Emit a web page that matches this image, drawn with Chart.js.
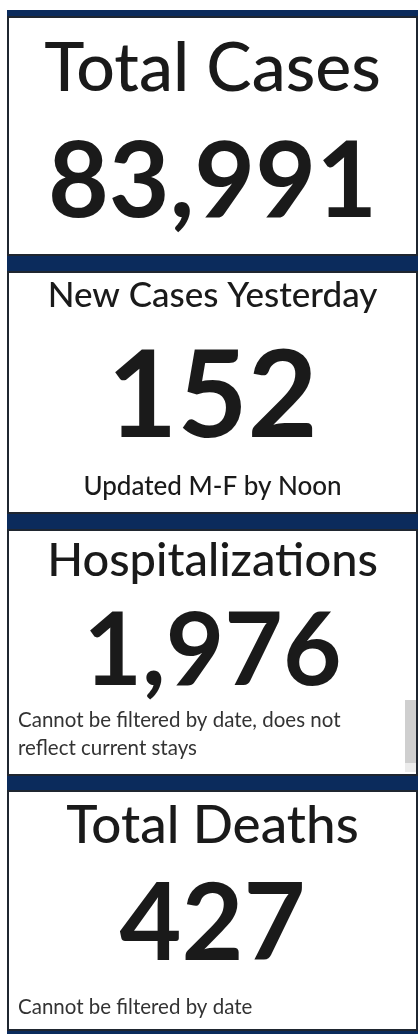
<!DOCTYPE html>
<html>
<head>
<meta charset="utf-8">
<script src="https://cdn.jsdelivr.net/npm/chart.js@4.4.1/dist/chart.umd.min.js"></script>
<style>
    body { margin: 0; background: #fff; }
    #board { position: absolute; left: 7px; top: 10px; width: 411px; height: 1024px; background: #0b2b5c; }
    .card { position: absolute; left: 0; width: 407px; background: #fff; border: 2px solid #1f2630; }
    .card canvas { display: block; }
    #scroll { position: absolute; left: 396px; top: 169px; width: 11px; height: 72px; background: #ececec; }
    #scroll div { width: 11px; height: 63px; background: #cfcfcf; }
</style>
</head>
<body>
<div id="board">
    <div class="card" style="top:6px"><canvas id="kartu0" width="407" height="236"></canvas></div>
    <div class="card" style="top:261px"><canvas id="kartu1" width="407" height="239"></canvas></div>
    <div class="card" style="top:519px"><canvas id="kartu2" width="407" height="243"></canvas><div id="scroll"><div></div></div></div>
    <div class="card" style="top:780px"><canvas id="kartu3" width="407" height="237"></canvas></div>
</div>
<script>
const cardTitles = ['Total Cases', 'New Cases Yesterday', 'Hospitalizations', 'Total Deaths'];
const cardValues = [83991, 152, 1976, 427];
const cardNotes = [
    [],
    ['Updated M-F by Noon'],
    ['Cannot be filtered by date, does not', 'reflect current stays'],
    ['Cannot be filtered by date']
];

const FONT = 'Lato, "Open Sans", sans-serif';

// ukuran teks tiap kartu
const gaya = [
    { judul: 68, padJudul: 17, angka: 105, catatan: 20.5, alignCatatan: 'start', warnaCatatan: '#333', padCatatan: 9, tinggiBaris: 1.35 },
    { judul: 35, padJudul: 5, angka: 121, catatan: 26, alignCatatan: 'center', warnaCatatan: '#1a1a1a', padCatatan: 10, tinggiBaris: 1.2 },
    { judul: 47, padJudul: 6, angka: 101, catatan: 20.5, alignCatatan: 'start', warnaCatatan: '#333', padCatatan: 12, tinggiBaris: 1.35 },
    { judul: 53, padJudul: 7, angka: 107, catatan: 20.5, alignCatatan: 'start', warnaCatatan: '#333', padCatatan: 8, tinggiBaris: 1.35 }
];

// posisi tengah angka (relatif ke atas kanvas)
const tengahAngka = [161.5, 120.5, 117.5, 129.5];

const bigValue = {
    id: 'bigValue',
    afterDraw: function (chart, args, opts) {
        const ctx = chart.ctx;
        ctx.save();
        ctx.font = '700 ' + opts.size + 'px ' + FONT;
        ctx.fillStyle = '#1a1a1a';
        ctx.textAlign = 'center';
        ctx.textBaseline = 'alphabetic';
        let x = (chart.chartArea.left + chart.chartArea.right) / 2;
        ctx.fillText(opts.text, x, opts.center + opts.size * 0.358);
        ctx.restore();
    }
};

cardTitles.forEach(function (judul, i) {
    let g = gaya[i];
    new Chart('kartu' + i, {
        type: 'bar',
        data: { labels: [], datasets: [] },
        plugins: [bigValue],
        options: {
            responsive: false,
            animation: false,
            events: [],
            layout: { padding: { left: 9, right: 9 } },
            scales: { x: { display: false }, y: { display: false } },
            plugins: {
                legend: { display: false },
                tooltip: { enabled: false },
                title: {
                    display: true,
                    text: judul,
                    color: '#1a1a1a',
                    font: { family: FONT, size: g.judul, weight: 500, lineHeight: 1 },
                    padding: { top: g.padJudul, bottom: 0 }
                },
                subtitle: {
                    display: cardNotes[i].length > 0,
                    position: 'bottom',
                    align: g.alignCatatan,
                    text: cardNotes[i],
                    color: g.warnaCatatan,
                    font: { family: FONT, size: g.catatan, weight: i === 1 ? 500 : 400, lineHeight: g.tinggiBaris },
                    padding: { top: 0, bottom: g.padCatatan }
                },
                bigValue: {
                    text: cardValues[i].toLocaleString('en-US'),
                    size: g.angka,
                    center: tengahAngka[i]
                }
            }
        }
    });
});
</script>
</body>
</html>
